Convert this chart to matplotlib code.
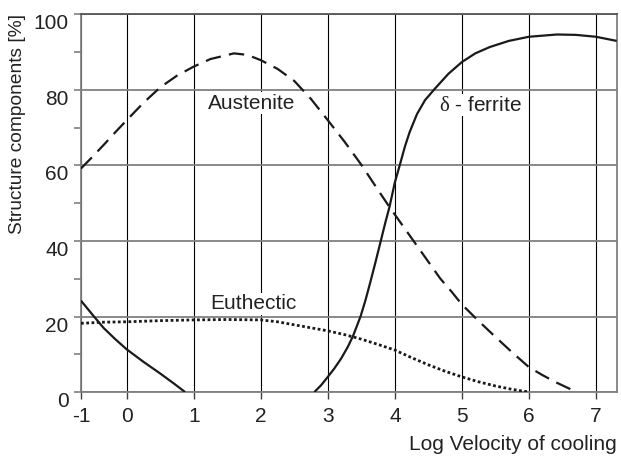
import numpy as np
import matplotlib
matplotlib.use("Agg")
import matplotlib.pyplot as plt

plt.rcParams['font.family'] = ['Liberation Sans', 'DejaVu Sans']
plt.rcParams['axes.unicode_minus'] = False
plt.rcParams['mathtext.fontset'] = 'custom'
plt.rcParams['mathtext.rm'] = 'Liberation Serif'

# ---- data ----
aust_x = [-1, -0.75, -0.5, -0.25, 0, 0.25, 0.5, 0.75, 1, 1.25, 1.6, 1.8, 2, 2.25, 2.5, 2.75,
          3, 3.25, 3.5, 3.75, 3.92, 4.1, 4.28, 4.5, 4.68, 4.85, 5, 5.25, 5.5, 5.75, 6, 6.2, 6.4, 6.71]
aust_y = [59.2, 62.3, 65.5, 68.8, 72, 76.6, 80.7, 83.8, 86.2, 88.2, 89.7, 89.3, 87.9, 85.6, 82.4, 77.6,
          72, 66.3, 60.2, 53.5, 49, 44.5, 40, 34.5, 30, 26.5, 23.2, 18.8, 14.6, 10.5, 6.6, 4.5, 2.6, 0]

eut_x = [-1, -0.5, 0, 0.5, 1, 1.5, 2, 2.25, 2.5, 2.75, 3, 3.25, 3.5, 3.75, 4, 4.25, 4.5, 4.75,
         5, 5.25, 5.5, 5.75, 6]
eut_y = [18.2, 18.5, 18.6, 18.9, 19.1, 19.2, 19.1, 18.6, 17.8, 17.0, 16.2, 15.2, 14.0, 12.6, 11.1,
         9.1, 7.2, 5.5, 4.0, 2.7, 1.6, 0.7, 0]

left_x = [-1, -0.75, -0.5, -0.25, 0, 0.25, 0.5, 0.7, 0.87]
left_y = [24.2, 20.5, 16.9, 14.0, 11.3, 8.0, 4.9, 2.3, 0]

fer_x = [2.8, 2.9, 3.0, 3.1, 3.2, 3.3, 3.38, 3.49, 3.56, 3.63, 3.71, 3.79, 3.86, 3.92, 4.0, 4.08,
         4.15, 4.22, 4.33, 4.45, 4.6, 4.8, 5.0, 5.2, 5.42, 5.7, 6.0, 6.42, 6.7, 7.0, 7.31]
fer_y = [0, 1.8, 4.0, 6.3, 8.9, 12.0, 15.0, 20.1, 24.2, 28.8, 34.3, 40, 45, 49, 55.5, 60.5,
         65, 68.8, 73.6, 77.3, 80.4, 84.3, 87.4, 89.7, 91.4, 93.0, 94.1, 94.7, 94.6, 94.1, 93.0]

x_ticks = [-1, 0, 1, 2, 3, 4, 5, 6, 7]
x_tick_labels = ["-1", "0", "1", "2", "3", "4", "5", "6", "7"]
y_ticks = [0, 20, 40, 60, 80, 100]
y_minor = [10, 30, 50, 70, 90]

# ---- figure ----
fig = plt.figure(figsize=(6.21, 4.57), dpi=100)
ax = fig.add_axes([0.1304, 0.1422, 0.8627, 0.8261])

ratio = 45.7 / 67.0
def fwd(x):
    x = np.asarray(x, dtype=float)
    return np.where(x < 0, x * ratio, x)
def inv(u):
    u = np.asarray(u, dtype=float)
    return np.where(u < 0, u / ratio, u)
ax.set_xscale('function', functions=(fwd, inv))

ink = '#1a1a1a'
kw = dict(solid_joinstyle='round', solid_capstyle='butt', zorder=4)
ax.plot(aust_x, aust_y, color=ink, lw=1.6, dashes=(7.0, 3.7), dash_joinstyle='round', zorder=4)
ax.plot(eut_x, eut_y, color=ink, lw=2.0, dashes=(1.0, 0.9), zorder=4)
ax.plot(left_x, left_y, color=ink, lw=1.6, **kw)
ax.plot(fer_x, fer_y, color=ink, lw=1.6, **kw)

ax.set_xlim(-1, 7.31)
ax.set_ylim(0, 100)
ax.set_xticks(x_ticks)
ax.set_xticklabels(x_tick_labels)
ax.set_yticks(y_ticks)
ax.set_yticks(y_minor, minor=True)
plt.setp(ax.get_yticklabels(), va='top')

ax.set_axisbelow(True)
ax.grid(axis='x', which='major', color='black', lw=0.8)
ax.grid(axis='y', which='major', color='#808080', lw=1.3)

for s in ax.spines.values():
    s.set_color('#808080')
    s.set_linewidth(1.3)
ax.spines['top'].set_color('#555555')

ax.tick_params(axis='y', which='both', direction='out', length=5, width=1.2,
               color='#808080', labelsize=15, labelcolor='#222222', pad=4)
ax.tick_params(axis='x', which='major', direction='out', length=5, width=1.0,
               color='#404040', labelsize=15, labelcolor='#222222', pad=6)

ax.set_ylabel("Structure components [%]", fontsize=13.8, color='#222222', loc='top', labelpad=5)
ax.set_xlabel("Log Velocity of cooling", fontsize=15, color='#222222', loc='right', labelpad=6)

box = dict(facecolor='white', edgecolor='none', pad=1)
ax.text(1.86, 76.5, "Austenite", fontsize=15, color='#222222', ha='center', va='center', bbox=box, zorder=3)
ax.text(5.28, 76.0, r"$\mathrm{\delta}$ - ferrite", fontsize=15, color='#222222', ha='center', va='center', bbox=box, zorder=3)
ax.text(1.89, 23.4, "Euthectic", fontsize=15, color='#222222', ha='center', va='center', bbox=box, zorder=3)

fig.savefig("out.png", dpi=100)
